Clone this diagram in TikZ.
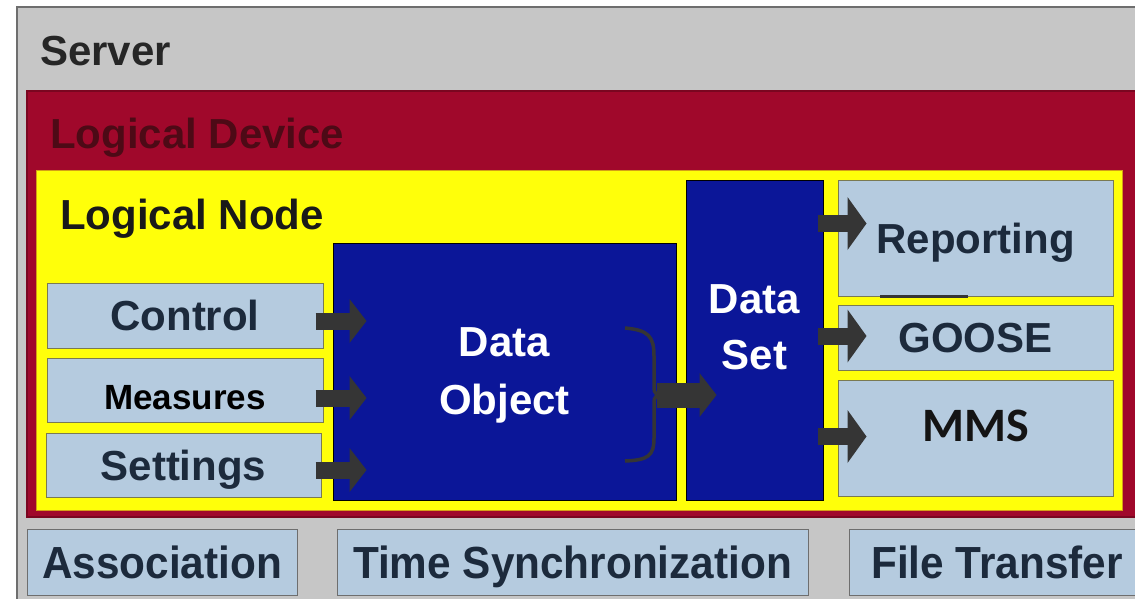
\documentclass[tikz,border=0pt]{standalone}
\usepackage{fontspec}
\setmainfont{Liberation Sans}
\newfontfamily\calibrifont{Carlito}
\newfontfamily\narrowfont[FakeStretch=0.94]{Liberation Sans}
\usetikzlibrary{calc,arrows.meta}

\definecolor{srvgray}{HTML}{C6C6C6}
\definecolor{srvline}{HTML}{6E6E6E}
\definecolor{devred}{HTML}{A0082B}
\definecolor{devline}{HTML}{7A0620}
\definecolor{devtext}{HTML}{4D0A16}
\definecolor{nodeyellow}{HTML}{FFFF0A}
\definecolor{nodeline}{HTML}{D4A017}
\definecolor{lblue}{HTML}{B5CBDF}
\definecolor{boxline}{HTML}{7A7A52}
\definecolor{bline}{HTML}{6E6E6E}
\definecolor{dblue}{HTML}{0B1698}
\definecolor{navy}{HTML}{1C2A3C}
\definecolor{arrgray}{HTML}{353535}

\newcommand\setfs[2]{\fontsize{#1}{#2}\selectfont}

\begin{document}
\begin{tikzpicture}[x=1pt,y=-1pt,
  container/.style={rectangle, inner sep=0pt, line width=1.5pt},
  title/.style={anchor=base west, inner sep=0pt, font=\bfseries\setfs{42}{50}},
  funcbox/.style={draw=boxline, line width=1pt, fill=lblue, inner sep=0pt,
    text=navy, font=\bfseries\setfs{42}{50}, text height=30pt, text depth=0pt},
  servicebox/.style={funcbox, draw=bline, font=\narrowfont\bfseries\setfs{45}{54},
    text height=32pt},
  datablock/.style={draw=black, line width=1pt, fill=dblue, inner sep=0pt,
    text=white, align=center},
  blockarrow/.style={draw=arrgray, line width=17pt,
    -{Triangle[length=17pt,width=44pt,line width=0pt]}},
  widearrow/.style={blockarrow, -{Triangle[length=19pt,width=53pt,line width=0pt]}},
]
\useasboundingbox (0,0) rectangle (1135,598);

% nested containers
\node[container, draw=srvline, fill=srvgray, minimum width=1123pt, minimum height=596pt]
  (server) at (578.5,305) {};
\node[container, draw=devline, fill=devred, minimum width=1113pt, minimum height=426pt]
  (ldev) at (583.5,304) {};
\node[container, draw=nodeline, line width=1pt, fill=nodeyellow, minimum width=1086pt, minimum height=340pt]
  (lnode) at (579,340) {};

\node[title, text=black!85] (servertitle) at (40,65) {Server};
\node[title, text=devtext] (ldevtitle) at (50,148) {Logical Device};
\node[title, text=black!90] (lnodetitle) at (60,229) {Logical Node};

% functional constraint groups
\node[funcbox, minimum width=276pt, minimum height=65pt] (ctrl) at (185,315.5) {Control};
\node[funcbox, minimum width=276pt, minimum height=64pt, text=black,
  font=\bfseries\setfs{35}{42}, text height=25pt] (meas) at (185,390) {\raisebox{-6.5pt}{Measures}};
\node[funcbox, minimum width=275pt, minimum height=64pt] (sett) at (183.5,465) {Settings};

% data object and data set
\node[datablock, minimum width=343pt, minimum height=257pt,
  font=\bfseries\setfs{42}{58}, text depth=0pt] (dobj) at (504.5,371.5) {Data\\Object};
\node[datablock, minimum width=137pt, minimum height=320pt,
  font=\bfseries\setfs{42}{56}, text depth=25pt] (dset) at (754.5,340) {Data\\Set};

% services fed by the data set
\node[funcbox, minimum width=275pt, minimum height=116pt] (rep) at (975.5,238) {Reporting};
\node[funcbox, minimum width=275pt, minimum height=65pt] (goose) at (975.5,337.5) {GOOSE};
\node[funcbox, minimum width=275pt, minimum height=116pt, text=black!92,
  font=\calibrifont\bfseries\setfs{48}{56}, text height=30pt] (mms) at (975.5,438) {\raisebox{12pt}{MMS}};

% server-level services
\node[servicebox, minimum width=270pt, minimum height=66pt] (assoc) at (162,562) {Association};
\node[servicebox, minimum width=471pt, minimum height=66pt] (tsync) at (572.5,562) {Time Synchronization};
\node[servicebox, minimum width=296pt, minimum height=66pt] (ftrans) at (997,562) {File Transfer};

% inputs into the data object
\draw[blockarrow] ($(ctrl.east)+(-8,5.5)$) -- ($(dobj.west|-ctrl.east)+(34,5.5)$);
\draw[blockarrow] ($(meas.east)+(-8,8)$) -- ($(dobj.west|-meas.east)+(34,8)$);
\draw[blockarrow] ($(sett.east)+(-6,5)$) -- ($(dobj.west|-sett.east)+(34,5)$);

% brace collecting the data object into the data set
\coordinate (brk) at (657,395);
\draw[arrgray, line width=3.5pt]
  (625,328) .. controls (648,330) and (654,336) .. (654,356) -- (654,382)
  .. controls (654,392) .. (brk)
  .. controls (654,398) .. (654,410) -- (654,438)
  .. controls (654,456) and (648,460) .. (625,461);
\draw[blockarrow, line width=25pt] (brk) -- ($(dset.west|-brk)+(31,0)$);

% outputs from the data set
\draw[widearrow] ($(dset.east|-rep.center)+(-6,-14.5)$) -- ($(rep.west)+(29,-14.5)$);
\draw[widearrow] ($(dset.east|-goose.center)+(-6,-1.5)$) -- ($(goose.west)+(29,-1.5)$);
\draw[widearrow] ($(dset.east|-mms.center)+(-6,-1.5)$) -- ($(mms.west)+(29,-1.5)$);

% short rule under the reporting box
\draw[arrgray, line width=2.5pt] ($(rep.south)+(-95.5,0)$) -- ($(rep.south)+(-7.5,0)$);
\end{tikzpicture}
\end{document}
